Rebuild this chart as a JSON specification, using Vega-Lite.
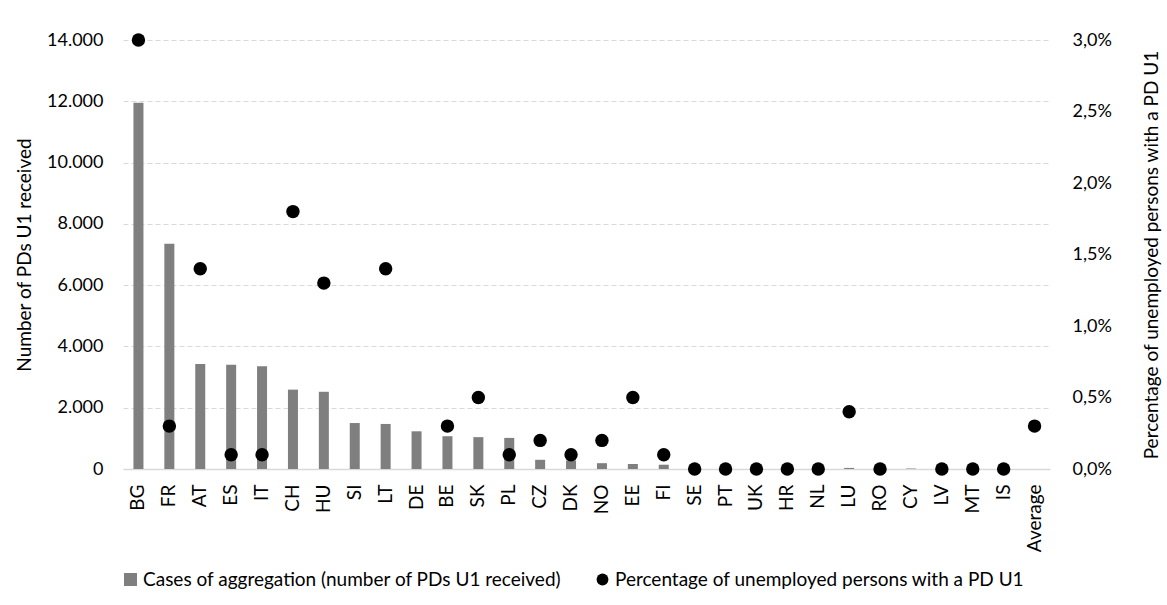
{
  "$schema": "https://vega.github.io/schema/vega-lite/v6.json",
  "width": 927,
  "height": 429,
  "autosize": {"type": "none"},
  "padding": {"left": 123, "top": 40, "right": 117, "bottom": 136},
  "background": "white",
  "config": {
    "locale": {"number": {"decimal": ",", "thousands": ".", "grouping": [3], "currency": ["", "€"]}},
    "font": "Lato",
    "view": {"stroke": null},
    "axis": {"labelFont": "Lato", "titleFont": "Lato", "labelColor": "#000000", "titleColor": "#000000", "labelFontSize": 18, "titleFontSize": 19, "titleFontWeight": "normal"},
    "legend": {"labelLimit": 700, "labelFont": "Lato", "labelFontSize": 19, "labelColor": "#000000"}
  },
  "data": {
    "values": [
      {"country": "BG", "cases": 11950, "pct": 0.030},
      {"country": "FR", "cases": 7350, "pct": 0.003},
      {"country": "AT", "cases": 3430, "pct": 0.014},
      {"country": "ES", "cases": 3400, "pct": 0.001},
      {"country": "IT", "cases": 3350, "pct": 0.001},
      {"country": "CH", "cases": 2590, "pct": 0.018},
      {"country": "HU", "cases": 2520, "pct": 0.013},
      {"country": "SI", "cases": 1500, "pct": null},
      {"country": "LT", "cases": 1470, "pct": 0.014},
      {"country": "DE", "cases": 1230, "pct": null},
      {"country": "BE", "cases": 1070, "pct": 0.003},
      {"country": "SK", "cases": 1040, "pct": 0.005},
      {"country": "PL", "cases": 1015, "pct": 0.001},
      {"country": "CZ", "cases": 300, "pct": 0.002},
      {"country": "DK", "cases": 280, "pct": 0.001},
      {"country": "NO", "cases": 190, "pct": 0.002},
      {"country": "EE", "cases": 160, "pct": 0.005},
      {"country": "FI", "cases": 140, "pct": 0.001},
      {"country": "SE", "cases": 0, "pct": 0.0},
      {"country": "PT", "cases": 0, "pct": 0.0},
      {"country": "UK", "cases": 0, "pct": 0.0},
      {"country": "HR", "cases": 0, "pct": 0.0},
      {"country": "NL", "cases": 0, "pct": 0.0},
      {"country": "LU", "cases": 35, "pct": 0.004},
      {"country": "RO", "cases": 0, "pct": 0.0},
      {"country": "CY", "cases": 15, "pct": null},
      {"country": "LV", "cases": 0, "pct": 0.0},
      {"country": "MT", "cases": 0, "pct": 0.0},
      {"country": "IS", "cases": 0, "pct": 0.0},
      {"country": "Average", "cases": null, "pct": 0.003}
    ]
  },
  "encoding": {
    "x": {
      "field": "country", "type": "nominal", "sort": null,
      "scale": {"paddingInner": 0, "paddingOuter": 0},
      "axis": {"title": null, "labelAngle": -90, "labelFontSize": 19, "ticks": false, "domain": true, "domainColor": "#d9d9d9", "domainWidth": 1.5, "labelPadding": 15, "grid": false}
    }
  },
  "layer": [
    {
      "mark": {"type": "bar", "size": 10, "color": "#7f7f7f"},
      "encoding": {
        "y": {
          "field": "cases", "type": "quantitative",
          "scale": {"domain": [0, 14000], "nice": false},
          "axis": {"title": "Number of PDs U1 received", "format": ",.0f", "values": [0, 2000, 4000, 6000, 8000, 10000, 12000, 14000], "ticks": false, "domain": false, "grid": true, "gridColor": "#d9d9d9", "gridDash": [5, 3], "gridWidth": 1, "labelPadding": 20, "titlePadding": 12}
        },
        "color": {
          "datum": "Cases of aggregation (number of PDs U1 received)",
          "scale": {"range": ["#7f7f7f"]},
          "legend": {"title": null, "orient": "none", "legendX": -2, "legendY": 530, "symbolType": "square", "symbolSize": 170, "symbolStrokeWidth": 0, "labelOffset": 3}
        }
      }
    },
    {
      "mark": {"type": "circle", "size": 180, "opacity": 1, "color": "#000000"},
      "encoding": {
        "y": {
          "field": "pct", "type": "quantitative",
          "scale": {"domain": [0, 0.03], "nice": false},
          "axis": {"title": "Percentage of unemployed persons with a PD U1", "orient": "right", "format": ".1%", "values": [0, 0.005, 0.01, 0.015, 0.02, 0.025, 0.03], "ticks": false, "domain": false, "grid": false, "labelPadding": 22, "titleAngle": -90, "titlePadding": 50}
        },
        "color": {
          "datum": "Percentage of unemployed persons with a PD U1",
          "scale": {"range": ["#000000"]},
          "legend": {"title": null, "orient": "none", "legendX": 470, "legendY": 530, "symbolType": "circle", "symbolSize": 140, "symbolStrokeWidth": 0, "labelOffset": 3}
        }
      }
    }
  ],
  "resolve": {"scale": {"y": "independent", "color": "independent"}}
}
